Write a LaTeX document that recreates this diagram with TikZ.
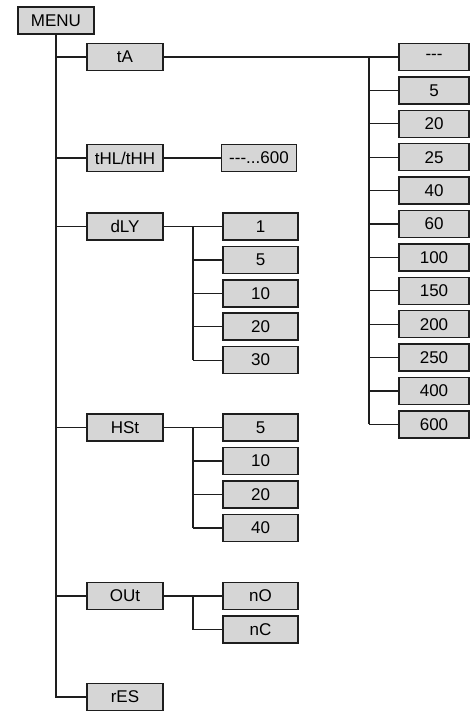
\documentclass[tikz,border=0pt]{standalone}
\usepackage{fontspec}
\setmainfont{Liberation Sans}
\usepackage{tikz}
\usetikzlibrary{positioning,calc}
\definecolor{menugray}{RGB}{214,214,214}
\definecolor{menuline}{RGB}{30,30,30}

\begin{document}
\begin{tikzpicture}[x=1pt,y=-1pt,
    box/.style={draw=menuline,fill=menugray,line width=1.5pt,inner sep=0pt,
                minimum width=76pt,minimum height=27pt,
                font=\fontsize{17}{17}\selectfont},
    sub/.style={box,minimum width=75pt},
    val/.style={box,minimum width=70pt},
    wire/.style={draw=menuline,line width=1.2pt}
  ]
    \useasboundingbox (0,0) rectangle (470,711);
    % main menu and first level
    \node[box] (menu) at (56,20.5) {MENU};
    \node[box] (ta)  at (125,57)  {tA};
    \node[box] (thl) at (125,158) {tHL/tHH};
    \node[box] (dly) at (125,226.5) {dLY};
    \node[box] (hst) at (125,427.5) {HSt};
    \node[box] (out) at (125,596) {OUt};
    \node[box] (res) at (125,697) {rES};
    \draw[wire] (menu.south) -- (menu.south|-res.west) -- (res.west);
    \foreach \n in {ta,thl,dly,hst,out}
      \draw[wire] (menu.south|-\n.west) -- (\n.west);
    % tA values
    \foreach \v [count=\i from 0] in {{-}{-}{-},5,20,25,40,60,100,150,200,250,400,600}
      \node[val] (ta\i) at (434,57+33.4*\i) {\v};
    \coordinate (tabus) at (369,57);
    \draw[wire] (ta.east) -- (ta0.west);
    \draw[wire] (tabus) -- (tabus|-ta11.west);
    \foreach \i in {1,...,11}
      \draw[wire] (tabus|-ta\i.west) -- (ta\i.west);
    % tHL/tHH range
    \node[sub] (thlv) at (259,158) {{-}{-}{-}...600};
    \draw[wire] (thl.east) -- (thlv.west);
    % dLY values
    \foreach \v [count=\i] in {1,5,10,20,30}
      \node[sub] (dly\i) at (260.5,226.5+33.4*\i-33.4) {\v};
    \coordinate (dlybus) at (193,226.5);
    \draw[wire] (dly.east) -- (dly1.west);
    \draw[wire] (dlybus) -- (dlybus|-dly5.west);
    \foreach \i in {2,...,5}
      \draw[wire] (dlybus|-dly\i.west) -- (dly\i.west);
    % HSt values
    \foreach \v [count=\i] in {5,10,20,40}
      \node[sub] (hst\i) at (260.5,427.5+33.5*\i-33.5) {\v};
    \coordinate (hstbus) at (193,427.5);
    \draw[wire] (hst.east) -- (hst1.west);
    \draw[wire] (hstbus) -- (hstbus|-hst4.west);
    \foreach \i in {2,...,4}
      \draw[wire] (hstbus|-hst\i.west) -- (hst\i.west);
    % OUt values
    \node[sub] (out1) at (260.5,596) {nO};
    \node[sub] (out2) at (260.5,629.5) {nC};
    \coordinate (outbus) at (193,596);
    \draw[wire] (out.east) -- (out1.west);
    \draw[wire] (outbus) |- (out2.west);
  \end{tikzpicture}
\end{document}
